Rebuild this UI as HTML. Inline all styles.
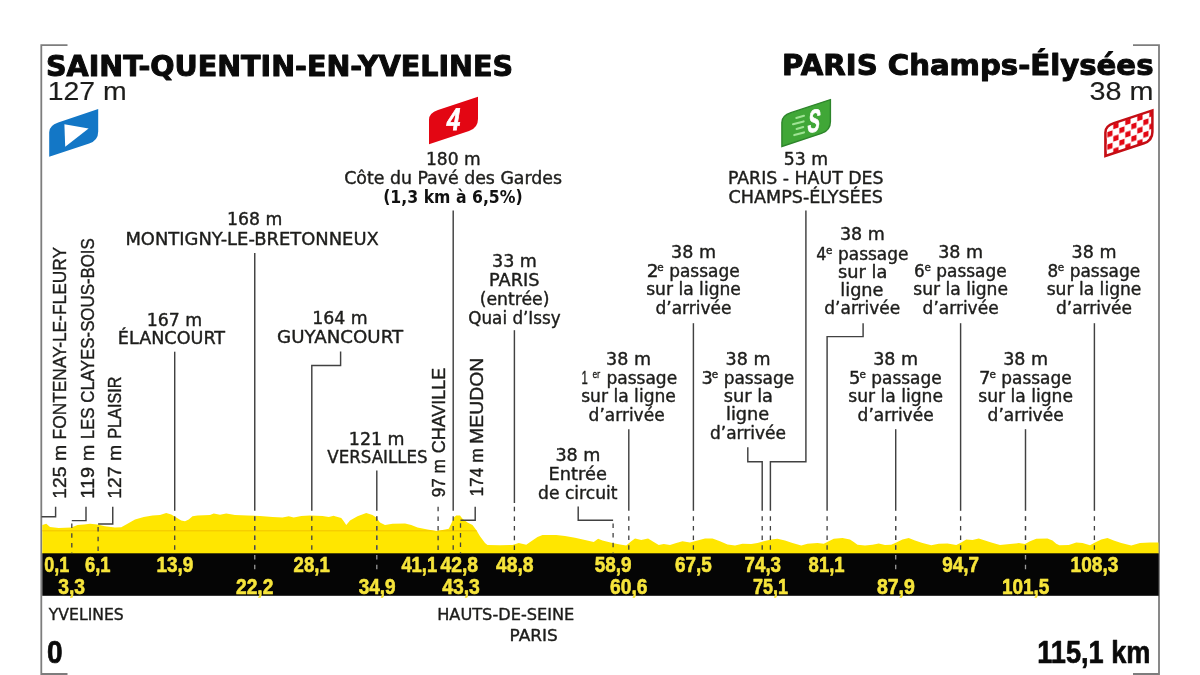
<!DOCTYPE html>
<html lang="fr"><head><meta charset="utf-8"><title>Étape 21 — Saint-Quentin-en-Yvelines / Paris Champs-Élysées</title>
<style>
html,body{margin:0;padding:0;background:#fff;}
body{width:1200px;height:675px;overflow:hidden;}
svg{display:block;}
text{white-space:pre;}
</style></head><body>
<svg width="1200" height="675" viewBox="0 0 1200 675">
<rect width="1200" height="675" fill="#ffffff"/>
<path d="M67.5 45.2 H41.3 V674 H67.5" fill="none" stroke="#7d7d7d" stroke-width="1.8"/>
<path d="M1133 45.2 H1159.0 V674 H1133" fill="none" stroke="#7d7d7d" stroke-width="1.8"/>
<clipPath id="pc"><path d="M42.3 554 L42.3 525 L46.3 523.7 L50 526.9 L58.75 528.1 L71.25 527.5 L77.5 525 L84 524.6 L90 523.75 L97.5 524.4 L105 526.25 L115 527.5 L121.25 527.25 L127.5 523.75 L135 519.4 L143.75 516.9 L152.5 515.6 L160 515 L166.25 513.1 L171.25 514.4 L176.25 517.5 L181.25 520.6 L185 521.2 L188.75 519.4 L192.5 516.25 L197.5 515.6 L210 515 L213.75 513.5 L220 514.75 L226.25 513.5 L235 515 L247.5 515.6 L260 516 L272.5 516.9 L282.5 517.5 L288.75 516.25 L293.75 517.5 L301.25 516 L310 515.6 L322.5 516 L328.75 516.9 L333.75 515.8 L335 516.25 L341.25 518.1 L343.75 521.25 L346.25 525 L350 520.6 L357.5 516.25 L366.25 513.1 L372.5 515 L376.25 517.5 L380 522.5 L385 525 L392.5 523.75 L405 523.5 L411.25 525 L417.5 527.5 L427.5 529.4 L436.25 531 L442.5 530 L448.75 528.75 L451.25 523.75 L453.75 517.5 L456.25 515.6 L460 515.6 L462.5 518.75 L467.5 522.5 L472.5 525 L476.25 530 L480 536.25 L485 543.1 L487.5 545 L500 545.25 L512.5 545 L518.75 543.1 L526.25 544.75 L531.25 541.25 L537.5 536.9 L542.5 535 L556.25 535 L565 536 L575 537.75 L585 540 L593.75 541.9 L598.1 538.75 L602.5 540.6 L612.5 543.1 L620 544.4 L626.25 545.6 L631.25 541.25 L635 538.5 L641.25 540 L648.1 538.5 L653.75 541.9 L658.75 545 L663.75 544 L670 545 L676.25 543.1 L682.5 541.25 L690 542.5 L697.5 540.6 L705 538.5 L712.5 538.5 L720 541.25 L727.5 544.4 L735 545.6 L742.5 543.75 L751.25 544 L757.5 543.1 L763.75 541.25 L771.25 539.4 L777.5 538.75 L785 540.6 L792.5 543.1 L801.25 545.6 L807.5 543.75 L817.5 543.1 L823.75 543.75 L828.75 541.25 L833.75 538.75 L842.5 538.1 L850 539.4 L853.75 541.9 L857.5 544.75 L865 545.6 L872.5 544.75 L878.75 543.5 L885 545 L891.25 544.75 L896.25 542.5 L902.5 539.4 L908.75 538.1 L915 540.6 L922.5 543.1 L931.25 545.25 L938.75 543.75 L947.5 543.5 L956.25 545 L961.25 542.5 L966.25 539.4 L972.5 540 L978.75 538.5 L985 540.6 L991.25 542.5 L1000 545 L1010 544 L1018.75 543.1 L1025 544 L1030 541.25 L1036.25 538.75 L1047.5 538.5 L1052.5 540.6 L1056.25 543.75 L1059.4 545.25 L1068.75 545 L1076.25 542.5 L1082.5 543.1 L1090 545.25 L1095 542.5 L1101.25 539.4 L1107.5 538.1 L1113.75 540.6 L1121.25 543.1 L1131.25 545.6 L1140 543.1 L1150 542.5 L1158.5 542.5 L1158.5 554 Z"/></clipPath>
<path d="M42.3 554 L42.3 525 L46.3 523.7 L50 526.9 L58.75 528.1 L71.25 527.5 L77.5 525 L84 524.6 L90 523.75 L97.5 524.4 L105 526.25 L115 527.5 L121.25 527.25 L127.5 523.75 L135 519.4 L143.75 516.9 L152.5 515.6 L160 515 L166.25 513.1 L171.25 514.4 L176.25 517.5 L181.25 520.6 L185 521.2 L188.75 519.4 L192.5 516.25 L197.5 515.6 L210 515 L213.75 513.5 L220 514.75 L226.25 513.5 L235 515 L247.5 515.6 L260 516 L272.5 516.9 L282.5 517.5 L288.75 516.25 L293.75 517.5 L301.25 516 L310 515.6 L322.5 516 L328.75 516.9 L333.75 515.8 L335 516.25 L341.25 518.1 L343.75 521.25 L346.25 525 L350 520.6 L357.5 516.25 L366.25 513.1 L372.5 515 L376.25 517.5 L380 522.5 L385 525 L392.5 523.75 L405 523.5 L411.25 525 L417.5 527.5 L427.5 529.4 L436.25 531 L442.5 530 L448.75 528.75 L451.25 523.75 L453.75 517.5 L456.25 515.6 L460 515.6 L462.5 518.75 L467.5 522.5 L472.5 525 L476.25 530 L480 536.25 L485 543.1 L487.5 545 L500 545.25 L512.5 545 L518.75 543.1 L526.25 544.75 L531.25 541.25 L537.5 536.9 L542.5 535 L556.25 535 L565 536 L575 537.75 L585 540 L593.75 541.9 L598.1 538.75 L602.5 540.6 L612.5 543.1 L620 544.4 L626.25 545.6 L631.25 541.25 L635 538.5 L641.25 540 L648.1 538.5 L653.75 541.9 L658.75 545 L663.75 544 L670 545 L676.25 543.1 L682.5 541.25 L690 542.5 L697.5 540.6 L705 538.5 L712.5 538.5 L720 541.25 L727.5 544.4 L735 545.6 L742.5 543.75 L751.25 544 L757.5 543.1 L763.75 541.25 L771.25 539.4 L777.5 538.75 L785 540.6 L792.5 543.1 L801.25 545.6 L807.5 543.75 L817.5 543.1 L823.75 543.75 L828.75 541.25 L833.75 538.75 L842.5 538.1 L850 539.4 L853.75 541.9 L857.5 544.75 L865 545.6 L872.5 544.75 L878.75 543.5 L885 545 L891.25 544.75 L896.25 542.5 L902.5 539.4 L908.75 538.1 L915 540.6 L922.5 543.1 L931.25 545.25 L938.75 543.75 L947.5 543.5 L956.25 545 L961.25 542.5 L966.25 539.4 L972.5 540 L978.75 538.5 L985 540.6 L991.25 542.5 L1000 545 L1010 544 L1018.75 543.1 L1025 544 L1030 541.25 L1036.25 538.75 L1047.5 538.5 L1052.5 540.6 L1056.25 543.75 L1059.4 545.25 L1068.75 545 L1076.25 542.5 L1082.5 543.1 L1090 545.25 L1095 542.5 L1101.25 539.4 L1107.5 538.1 L1113.75 540.6 L1121.25 543.1 L1131.25 545.6 L1140 543.1 L1150 542.5 L1158.5 542.5 L1158.5 554 Z" fill="#ffe600"/>
<path d="M42 530.8 H480" stroke="#f2c400" stroke-width="1" clip-path="url(#pc)"/>
<rect x="42.3" y="553.3" width="1116.4" height="42.5" fill="#050505"/>
<path d="M55.6 506.8 V516.7 H41.5" fill="none" stroke="#414141" stroke-width="1.45"/>
<path d="M86 506.8 V520.6 H71.8" fill="none" stroke="#414141" stroke-width="1.45"/>
<path d="M71.8 523.5 V553.4" fill="none" stroke="#414141" stroke-width="1.3" stroke-dasharray="4.5 5.2"/>
<path d="M112.75 506.8 V524 H98.1" fill="none" stroke="#414141" stroke-width="1.45"/>
<path d="M98.1 527 V553.4" fill="none" stroke="#414141" stroke-width="1.3" stroke-dasharray="4.5 5.2"/>
<path d="M174.7 351.7 V510.8" fill="none" stroke="#414141" stroke-width="1.45"/>
<path d="M174.7 516.2 V553.4" fill="none" stroke="#414141" stroke-width="1.3" stroke-dasharray="4.5 5.2"/>
<path d="M254.75 253 V510.8" fill="none" stroke="#414141" stroke-width="1.45"/>
<path d="M254.75 516.2 V571" fill="none" stroke="#9a9a9a" stroke-width="1.3" stroke-dasharray="4.5 5.2"/>
<path d="M254.75 516.2 V553.4" fill="none" stroke="#414141" stroke-width="1.3" stroke-dasharray="4.5 5.2"/>
<path d="M340.6 351.6 V365.5 H311.8 V510.8" fill="none" stroke="#414141" stroke-width="1.45"/>
<path d="M311.8 516.2 V553.4" fill="none" stroke="#414141" stroke-width="1.3" stroke-dasharray="4.5 5.2"/>
<path d="M376.8 470.5 V510.8" fill="none" stroke="#414141" stroke-width="1.45"/>
<path d="M376.8 516.2 V571" fill="none" stroke="#9a9a9a" stroke-width="1.3" stroke-dasharray="4.5 5.2"/>
<path d="M376.8 516.2 V553.4" fill="none" stroke="#414141" stroke-width="1.3" stroke-dasharray="4.5 5.2"/>
<path d="M438.1 506.7 V553.4" fill="none" stroke="#414141" stroke-width="1.3" stroke-dasharray="4.5 5.2"/>
<path d="M453.2 210.5 V510.8" fill="none" stroke="#414141" stroke-width="1.45"/>
<path d="M453.2 516.2 V553.4" fill="none" stroke="#414141" stroke-width="1.3" stroke-dasharray="4.5 5.2"/>
<path d="M475.2 506.7 V520.3 H460.5" fill="none" stroke="#414141" stroke-width="1.45"/>
<path d="M460.5 523.2 V553.4" fill="none" stroke="#414141" stroke-width="1.3" stroke-dasharray="4.5 5.2"/>
<path d="M514.4 330.2 V503" fill="none" stroke="#414141" stroke-width="1.45"/>
<path d="M514.4 506.7 V553.4" fill="none" stroke="#414141" stroke-width="1.3" stroke-dasharray="4.5 5.2"/>
<path d="M578.2 506.5 V520.3 H613.1" fill="none" stroke="#414141" stroke-width="1.45"/>
<path d="M613.1 523.4 V553.4" fill="none" stroke="#414141" stroke-width="1.3" stroke-dasharray="4.5 5.2"/>
<path d="M628.8 429.2 V510.8" fill="none" stroke="#414141" stroke-width="1.45"/>
<path d="M628.8 516.2 V553.4" fill="none" stroke="#414141" stroke-width="1.3" stroke-dasharray="4.5 5.2"/>
<path d="M693.4 323.2 V510.8" fill="none" stroke="#414141" stroke-width="1.45"/>
<path d="M693.4 516.2 V553.4" fill="none" stroke="#414141" stroke-width="1.3" stroke-dasharray="4.5 5.2"/>
<path d="M747.8 447.3 V461.7 H762.2 V510.8" fill="none" stroke="#414141" stroke-width="1.45"/>
<path d="M762.2 516.2 V553.4" fill="none" stroke="#414141" stroke-width="1.3" stroke-dasharray="4.5 5.2"/>
<path d="M805.9 210.5 V461.7 H770.4 V510.8" fill="none" stroke="#414141" stroke-width="1.45"/>
<path d="M770.4 516.2 V553.4" fill="none" stroke="#414141" stroke-width="1.3" stroke-dasharray="4.5 5.2"/>
<path d="M863.1 323.2 V336.6 H827.1 V510.8" fill="none" stroke="#414141" stroke-width="1.45"/>
<path d="M827.1 516.2 V553.4" fill="none" stroke="#414141" stroke-width="1.3" stroke-dasharray="4.5 5.2"/>
<path d="M895.7 429.2 V510.8" fill="none" stroke="#414141" stroke-width="1.45"/>
<path d="M895.7 516.2 V571" fill="none" stroke="#9a9a9a" stroke-width="1.3" stroke-dasharray="4.5 5.2"/>
<path d="M895.7 516.2 V553.4" fill="none" stroke="#414141" stroke-width="1.3" stroke-dasharray="4.5 5.2"/>
<path d="M960.6 323.2 V510.8" fill="none" stroke="#414141" stroke-width="1.45"/>
<path d="M960.6 516.2 V553.4" fill="none" stroke="#414141" stroke-width="1.3" stroke-dasharray="4.5 5.2"/>
<path d="M1025.5 429.2 V510.8" fill="none" stroke="#414141" stroke-width="1.45"/>
<path d="M1025.5 516.2 V571" fill="none" stroke="#9a9a9a" stroke-width="1.3" stroke-dasharray="4.5 5.2"/>
<path d="M1025.5 516.2 V553.4" fill="none" stroke="#414141" stroke-width="1.3" stroke-dasharray="4.5 5.2"/>
<path d="M1094.4 323.2 V510.8" fill="none" stroke="#414141" stroke-width="1.45"/>
<path d="M1094.4 516.2 V553.4" fill="none" stroke="#414141" stroke-width="1.3" stroke-dasharray="4.5 5.2"/>
<text x="46.0" y="75.5" font-family='"DejaVu Sans","Liberation Sans",sans-serif' font-weight="bold" font-size="28.5" fill="#0a0a0a" textLength="467.0" lengthAdjust="spacingAndGlyphs" stroke="#0a0a0a" stroke-width="1.0" stroke-linejoin="round">SAINT-QUENTIN-EN-YVELINES</text>
<text x="47.7" y="99.6" font-family='"Liberation Sans","DejaVu Sans",sans-serif' font-weight="normal" font-size="25.8" fill="#1d1d1b" textLength="79.0" lengthAdjust="spacingAndGlyphs" stroke="#1d1d1b" stroke-width="0.15" stroke-linejoin="round">127 m</text>
<text x="782.1" y="75.3" font-family='"DejaVu Sans","Liberation Sans",sans-serif' font-weight="bold" font-size="28.5" fill="#0a0a0a" textLength="371.4" lengthAdjust="spacingAndGlyphs" stroke="#0a0a0a" stroke-width="1.0" stroke-linejoin="round">PARIS Champs-Élysées</text>
<text x="1089.5" y="99.7" font-family='"Liberation Sans","DejaVu Sans",sans-serif' font-weight="normal" font-size="25.8" fill="#1d1d1b" textLength="63.9" lengthAdjust="spacingAndGlyphs" stroke="#1d1d1b" stroke-width="0.15" stroke-linejoin="round">38 m</text>
<text x="227.1" y="224.8" font-family='"DejaVu Sans","Liberation Sans",sans-serif' font-weight="normal" font-size="17.0" fill="#1d1d1b" textLength="55.3" lengthAdjust="spacingAndGlyphs" stroke="#1d1d1b" stroke-width="0.4" stroke-linejoin="round">168 m</text>
<text x="125.4" y="244.7" font-family='"DejaVu Sans","Liberation Sans",sans-serif' font-weight="normal" font-size="17.0" fill="#1d1d1b" textLength="253.4" lengthAdjust="spacingAndGlyphs" stroke="#1d1d1b" stroke-width="0.4" stroke-linejoin="round">MONTIGNY-LE-BRETONNEUX</text>
<text x="146.7" y="325.5" font-family='"DejaVu Sans","Liberation Sans",sans-serif' font-weight="normal" font-size="17.0" fill="#1d1d1b" textLength="55.6" lengthAdjust="spacingAndGlyphs" stroke="#1d1d1b" stroke-width="0.4" stroke-linejoin="round">167 m</text>
<text x="117.8" y="344.4" font-family='"DejaVu Sans","Liberation Sans",sans-serif' font-weight="normal" font-size="17.0" fill="#1d1d1b" textLength="107.3" lengthAdjust="spacingAndGlyphs" stroke="#1d1d1b" stroke-width="0.4" stroke-linejoin="round">ÉLANCOURT</text>
<text x="312.2" y="324.2" font-family='"DejaVu Sans","Liberation Sans",sans-serif' font-weight="normal" font-size="17.0" fill="#1d1d1b" textLength="55.5" lengthAdjust="spacingAndGlyphs" stroke="#1d1d1b" stroke-width="0.4" stroke-linejoin="round">164 m</text>
<text x="277.1" y="343.1" font-family='"DejaVu Sans","Liberation Sans",sans-serif' font-weight="normal" font-size="17.0" fill="#1d1d1b" textLength="126.0" lengthAdjust="spacingAndGlyphs" stroke="#1d1d1b" stroke-width="0.4" stroke-linejoin="round">GUYANCOURT</text>
<text x="348.8" y="444.6" font-family='"DejaVu Sans","Liberation Sans",sans-serif' font-weight="normal" font-size="17.0" fill="#1d1d1b" textLength="55.8" lengthAdjust="spacingAndGlyphs" stroke="#1d1d1b" stroke-width="0.4" stroke-linejoin="round">121 m</text>
<text x="327.3" y="462.8" font-family='"DejaVu Sans","Liberation Sans",sans-serif' font-weight="normal" font-size="17.0" fill="#1d1d1b" textLength="100.4" lengthAdjust="spacingAndGlyphs" stroke="#1d1d1b" stroke-width="0.4" stroke-linejoin="round">VERSAILLES</text>
<text x="425.9" y="165.2" font-family='"DejaVu Sans","Liberation Sans",sans-serif' font-weight="normal" font-size="17.0" fill="#1d1d1b" textLength="54.7" lengthAdjust="spacingAndGlyphs" stroke="#1d1d1b" stroke-width="0.4" stroke-linejoin="round">180 m</text>
<text x="344.2" y="183.5" font-family='"DejaVu Sans","Liberation Sans",sans-serif' font-weight="normal" font-size="17.0" fill="#1d1d1b" textLength="217.8" lengthAdjust="spacingAndGlyphs" stroke="#1d1d1b" stroke-width="0.4" stroke-linejoin="round">Côte du Pavé des Gardes</text>
<text x="383.2" y="202.6" font-family='"DejaVu Sans","Liberation Sans",sans-serif' font-weight="bold" font-size="16.8" fill="#111" textLength="139.5" lengthAdjust="spacingAndGlyphs">(1,3 km à 6,5%)</text>
<text x="492.0" y="267.2" font-family='"DejaVu Sans","Liberation Sans",sans-serif' font-weight="normal" font-size="17.0" fill="#1d1d1b" textLength="44.9" lengthAdjust="spacingAndGlyphs" stroke="#1d1d1b" stroke-width="0.4" stroke-linejoin="round">33 m</text>
<text x="489.0" y="286.1" font-family='"DejaVu Sans","Liberation Sans",sans-serif' font-weight="normal" font-size="17.0" fill="#1d1d1b" textLength="50.5" lengthAdjust="spacingAndGlyphs" stroke="#1d1d1b" stroke-width="0.4" stroke-linejoin="round">PARIS</text>
<text x="479.7" y="305.0" font-family='"DejaVu Sans","Liberation Sans",sans-serif' font-weight="normal" font-size="17.0" fill="#1d1d1b" textLength="69.8" lengthAdjust="spacingAndGlyphs" stroke="#1d1d1b" stroke-width="0.4" stroke-linejoin="round">(entrée)</text>
<text x="468.3" y="323.9" font-family='"DejaVu Sans","Liberation Sans",sans-serif' font-weight="normal" font-size="17.0" fill="#1d1d1b" textLength="92.4" lengthAdjust="spacingAndGlyphs" stroke="#1d1d1b" stroke-width="0.4" stroke-linejoin="round">Quai d’Issy</text>
<text x="555.4" y="461.4" font-family='"DejaVu Sans","Liberation Sans",sans-serif' font-weight="normal" font-size="17.0" fill="#1d1d1b" textLength="45.1" lengthAdjust="spacingAndGlyphs" stroke="#1d1d1b" stroke-width="0.4" stroke-linejoin="round">38 m</text>
<text x="548.6" y="480.0" font-family='"DejaVu Sans","Liberation Sans",sans-serif' font-weight="normal" font-size="17.0" fill="#1d1d1b" textLength="58.3" lengthAdjust="spacingAndGlyphs" stroke="#1d1d1b" stroke-width="0.4" stroke-linejoin="round">Entrée</text>
<text x="538.1" y="498.7" font-family='"DejaVu Sans","Liberation Sans",sans-serif' font-weight="normal" font-size="17.0" fill="#1d1d1b" textLength="79.4" lengthAdjust="spacingAndGlyphs" stroke="#1d1d1b" stroke-width="0.4" stroke-linejoin="round">de circuit</text>
<text x="606.1" y="364.8" font-family='"DejaVu Sans","Liberation Sans",sans-serif' font-weight="normal" font-size="17.0" fill="#1d1d1b" textLength="44.9" lengthAdjust="spacingAndGlyphs" stroke="#1d1d1b" stroke-width="0.4" stroke-linejoin="round">38 m</text>
<text x="581.5" y="384.0" font-family='"Liberation Sans","DejaVu Sans",sans-serif' font-weight="normal" font-size="18.0" fill="#1d1d1b" textLength="6.3" lengthAdjust="spacingAndGlyphs" stroke="#1d1d1b" stroke-width="0.4" stroke-linejoin="round">1</text>
<text x="592.4" y="378.0" font-family='"DejaVu Sans","Liberation Sans",sans-serif' font-weight="normal" font-size="11.0" fill="#1d1d1b" textLength="7.7" lengthAdjust="spacingAndGlyphs" stroke="#1d1d1b" stroke-width="0.4" stroke-linejoin="round">er</text>
<text x="606.4" y="384.0" font-family='"DejaVu Sans","Liberation Sans",sans-serif' font-weight="normal" font-size="17.0" fill="#1d1d1b" textLength="70.8" lengthAdjust="spacingAndGlyphs" stroke="#1d1d1b" stroke-width="0.4" stroke-linejoin="round">passage</text>
<text x="581.2" y="402.1" font-family='"DejaVu Sans","Liberation Sans",sans-serif' font-weight="normal" font-size="17.0" fill="#1d1d1b" textLength="94.7" lengthAdjust="spacingAndGlyphs" stroke="#1d1d1b" stroke-width="0.4" stroke-linejoin="round">sur la ligne</text>
<text x="588.6" y="420.5" font-family='"DejaVu Sans","Liberation Sans",sans-serif' font-weight="normal" font-size="17.0" fill="#1d1d1b" textLength="76.0" lengthAdjust="spacingAndGlyphs" stroke="#1d1d1b" stroke-width="0.4" stroke-linejoin="round">d’arrivée</text>
<text x="671.1" y="257.9" font-family='"DejaVu Sans","Liberation Sans",sans-serif' font-weight="normal" font-size="17.0" fill="#1d1d1b" textLength="44.9" lengthAdjust="spacingAndGlyphs" stroke="#1d1d1b" stroke-width="0.4" stroke-linejoin="round">38 m</text>
<text x="646.8" y="277.1" font-family='"DejaVu Sans","Liberation Sans",sans-serif' font-weight="normal" font-size="17.0" fill="#1d1d1b" textLength="11.8" lengthAdjust="spacingAndGlyphs" stroke="#1d1d1b" stroke-width="0.4" stroke-linejoin="round">2</text>
<text x="657.3" y="271.1" font-family='"DejaVu Sans","Liberation Sans",sans-serif' font-weight="normal" font-size="11.0" fill="#1d1d1b" textLength="6.4" lengthAdjust="spacingAndGlyphs" stroke="#1d1d1b" stroke-width="0.4" stroke-linejoin="round">e</text>
<text x="669.2" y="277.1" font-family='"DejaVu Sans","Liberation Sans",sans-serif' font-weight="normal" font-size="17.0" fill="#1d1d1b" textLength="70.4" lengthAdjust="spacingAndGlyphs" stroke="#1d1d1b" stroke-width="0.4" stroke-linejoin="round">passage</text>
<text x="646.2" y="295.2" font-family='"DejaVu Sans","Liberation Sans",sans-serif' font-weight="normal" font-size="17.0" fill="#1d1d1b" textLength="94.7" lengthAdjust="spacingAndGlyphs" stroke="#1d1d1b" stroke-width="0.4" stroke-linejoin="round">sur la ligne</text>
<text x="655.5" y="313.6" font-family='"DejaVu Sans","Liberation Sans",sans-serif' font-weight="normal" font-size="17.0" fill="#1d1d1b" textLength="76.0" lengthAdjust="spacingAndGlyphs" stroke="#1d1d1b" stroke-width="0.4" stroke-linejoin="round">d’arrivée</text>
<text x="725.6" y="365.0" font-family='"DejaVu Sans","Liberation Sans",sans-serif' font-weight="normal" font-size="17.0" fill="#1d1d1b" textLength="44.9" lengthAdjust="spacingAndGlyphs" stroke="#1d1d1b" stroke-width="0.4" stroke-linejoin="round">38 m</text>
<text x="701.4" y="384.2" font-family='"DejaVu Sans","Liberation Sans",sans-serif' font-weight="normal" font-size="17.0" fill="#1d1d1b" textLength="11.3" lengthAdjust="spacingAndGlyphs" stroke="#1d1d1b" stroke-width="0.4" stroke-linejoin="round">3</text>
<text x="711.8" y="378.2" font-family='"DejaVu Sans","Liberation Sans",sans-serif' font-weight="normal" font-size="11.0" fill="#1d1d1b" textLength="6.4" lengthAdjust="spacingAndGlyphs" stroke="#1d1d1b" stroke-width="0.4" stroke-linejoin="round">e</text>
<text x="723.7" y="384.2" font-family='"DejaVu Sans","Liberation Sans",sans-serif' font-weight="normal" font-size="17.0" fill="#1d1d1b" textLength="70.4" lengthAdjust="spacingAndGlyphs" stroke="#1d1d1b" stroke-width="0.4" stroke-linejoin="round">passage</text>
<text x="723.7" y="402.2" font-family='"DejaVu Sans","Liberation Sans",sans-serif' font-weight="normal" font-size="17.0" fill="#1d1d1b" textLength="49.3" lengthAdjust="spacingAndGlyphs" stroke="#1d1d1b" stroke-width="0.4" stroke-linejoin="round">sur la</text>
<text x="726.0" y="420.4" font-family='"DejaVu Sans","Liberation Sans",sans-serif' font-weight="normal" font-size="17.0" fill="#1d1d1b" textLength="43.2" lengthAdjust="spacingAndGlyphs" stroke="#1d1d1b" stroke-width="0.4" stroke-linejoin="round">ligne</text>
<text x="710.0" y="439.0" font-family='"DejaVu Sans","Liberation Sans",sans-serif' font-weight="normal" font-size="17.0" fill="#1d1d1b" textLength="76.0" lengthAdjust="spacingAndGlyphs" stroke="#1d1d1b" stroke-width="0.4" stroke-linejoin="round">d’arrivée</text>
<text x="839.9" y="240.3" font-family='"DejaVu Sans","Liberation Sans",sans-serif' font-weight="normal" font-size="17.0" fill="#1d1d1b" textLength="44.9" lengthAdjust="spacingAndGlyphs" stroke="#1d1d1b" stroke-width="0.4" stroke-linejoin="round">38 m</text>
<text x="816.2" y="259.5" font-family='"DejaVu Sans","Liberation Sans",sans-serif' font-weight="normal" font-size="17.0" fill="#1d1d1b" textLength="10.2" lengthAdjust="spacingAndGlyphs" stroke="#1d1d1b" stroke-width="0.4" stroke-linejoin="round">4</text>
<text x="826.1" y="253.5" font-family='"DejaVu Sans","Liberation Sans",sans-serif' font-weight="normal" font-size="11.0" fill="#1d1d1b" textLength="6.4" lengthAdjust="spacingAndGlyphs" stroke="#1d1d1b" stroke-width="0.4" stroke-linejoin="round">e</text>
<text x="838.0" y="259.5" font-family='"DejaVu Sans","Liberation Sans",sans-serif' font-weight="normal" font-size="17.0" fill="#1d1d1b" textLength="70.4" lengthAdjust="spacingAndGlyphs" stroke="#1d1d1b" stroke-width="0.4" stroke-linejoin="round">passage</text>
<text x="838.0" y="277.5" font-family='"DejaVu Sans","Liberation Sans",sans-serif' font-weight="normal" font-size="17.0" fill="#1d1d1b" textLength="49.3" lengthAdjust="spacingAndGlyphs" stroke="#1d1d1b" stroke-width="0.4" stroke-linejoin="round">sur la</text>
<text x="840.3" y="295.7" font-family='"DejaVu Sans","Liberation Sans",sans-serif' font-weight="normal" font-size="17.0" fill="#1d1d1b" textLength="43.2" lengthAdjust="spacingAndGlyphs" stroke="#1d1d1b" stroke-width="0.4" stroke-linejoin="round">ligne</text>
<text x="824.3" y="314.3" font-family='"DejaVu Sans","Liberation Sans",sans-serif' font-weight="normal" font-size="17.0" fill="#1d1d1b" textLength="76.0" lengthAdjust="spacingAndGlyphs" stroke="#1d1d1b" stroke-width="0.4" stroke-linejoin="round">d’arrivée</text>
<text x="873.2" y="365.0" font-family='"DejaVu Sans","Liberation Sans",sans-serif' font-weight="normal" font-size="17.0" fill="#1d1d1b" textLength="44.9" lengthAdjust="spacingAndGlyphs" stroke="#1d1d1b" stroke-width="0.4" stroke-linejoin="round">38 m</text>
<text x="849.0" y="384.2" font-family='"DejaVu Sans","Liberation Sans",sans-serif' font-weight="normal" font-size="17.0" fill="#1d1d1b" textLength="11.4" lengthAdjust="spacingAndGlyphs" stroke="#1d1d1b" stroke-width="0.4" stroke-linejoin="round">5</text>
<text x="859.4" y="378.2" font-family='"DejaVu Sans","Liberation Sans",sans-serif' font-weight="normal" font-size="11.0" fill="#1d1d1b" textLength="6.4" lengthAdjust="spacingAndGlyphs" stroke="#1d1d1b" stroke-width="0.4" stroke-linejoin="round">e</text>
<text x="871.3" y="384.2" font-family='"DejaVu Sans","Liberation Sans",sans-serif' font-weight="normal" font-size="17.0" fill="#1d1d1b" textLength="70.4" lengthAdjust="spacingAndGlyphs" stroke="#1d1d1b" stroke-width="0.4" stroke-linejoin="round">passage</text>
<text x="848.3" y="402.3" font-family='"DejaVu Sans","Liberation Sans",sans-serif' font-weight="normal" font-size="17.0" fill="#1d1d1b" textLength="94.7" lengthAdjust="spacingAndGlyphs" stroke="#1d1d1b" stroke-width="0.4" stroke-linejoin="round">sur la ligne</text>
<text x="857.6" y="420.7" font-family='"DejaVu Sans","Liberation Sans",sans-serif' font-weight="normal" font-size="17.0" fill="#1d1d1b" textLength="76.0" lengthAdjust="spacingAndGlyphs" stroke="#1d1d1b" stroke-width="0.4" stroke-linejoin="round">d’arrivée</text>
<text x="938.2" y="257.8" font-family='"DejaVu Sans","Liberation Sans",sans-serif' font-weight="normal" font-size="17.0" fill="#1d1d1b" textLength="44.9" lengthAdjust="spacingAndGlyphs" stroke="#1d1d1b" stroke-width="0.4" stroke-linejoin="round">38 m</text>
<text x="914.1" y="277.0" font-family='"DejaVu Sans","Liberation Sans",sans-serif' font-weight="normal" font-size="17.0" fill="#1d1d1b" textLength="10.7" lengthAdjust="spacingAndGlyphs" stroke="#1d1d1b" stroke-width="0.4" stroke-linejoin="round">6</text>
<text x="924.4" y="271.0" font-family='"DejaVu Sans","Liberation Sans",sans-serif' font-weight="normal" font-size="11.0" fill="#1d1d1b" textLength="6.4" lengthAdjust="spacingAndGlyphs" stroke="#1d1d1b" stroke-width="0.4" stroke-linejoin="round">e</text>
<text x="936.3" y="277.0" font-family='"DejaVu Sans","Liberation Sans",sans-serif' font-weight="normal" font-size="17.0" fill="#1d1d1b" textLength="70.4" lengthAdjust="spacingAndGlyphs" stroke="#1d1d1b" stroke-width="0.4" stroke-linejoin="round">passage</text>
<text x="913.3" y="295.1" font-family='"DejaVu Sans","Liberation Sans",sans-serif' font-weight="normal" font-size="17.0" fill="#1d1d1b" textLength="94.7" lengthAdjust="spacingAndGlyphs" stroke="#1d1d1b" stroke-width="0.4" stroke-linejoin="round">sur la ligne</text>
<text x="922.6" y="313.5" font-family='"DejaVu Sans","Liberation Sans",sans-serif' font-weight="normal" font-size="17.0" fill="#1d1d1b" textLength="76.0" lengthAdjust="spacingAndGlyphs" stroke="#1d1d1b" stroke-width="0.4" stroke-linejoin="round">d’arrivée</text>
<text x="1003.2" y="364.8" font-family='"DejaVu Sans","Liberation Sans",sans-serif' font-weight="normal" font-size="17.0" fill="#1d1d1b" textLength="44.9" lengthAdjust="spacingAndGlyphs" stroke="#1d1d1b" stroke-width="0.4" stroke-linejoin="round">38 m</text>
<text x="978.9" y="384.0" font-family='"DejaVu Sans","Liberation Sans",sans-serif' font-weight="normal" font-size="17.0" fill="#1d1d1b" textLength="11.5" lengthAdjust="spacingAndGlyphs" stroke="#1d1d1b" stroke-width="0.4" stroke-linejoin="round">7</text>
<text x="989.4" y="378.0" font-family='"DejaVu Sans","Liberation Sans",sans-serif' font-weight="normal" font-size="11.0" fill="#1d1d1b" textLength="6.4" lengthAdjust="spacingAndGlyphs" stroke="#1d1d1b" stroke-width="0.4" stroke-linejoin="round">e</text>
<text x="1001.3" y="384.0" font-family='"DejaVu Sans","Liberation Sans",sans-serif' font-weight="normal" font-size="17.0" fill="#1d1d1b" textLength="70.4" lengthAdjust="spacingAndGlyphs" stroke="#1d1d1b" stroke-width="0.4" stroke-linejoin="round">passage</text>
<text x="978.3" y="402.1" font-family='"DejaVu Sans","Liberation Sans",sans-serif' font-weight="normal" font-size="17.0" fill="#1d1d1b" textLength="94.7" lengthAdjust="spacingAndGlyphs" stroke="#1d1d1b" stroke-width="0.4" stroke-linejoin="round">sur la ligne</text>
<text x="987.6" y="420.5" font-family='"DejaVu Sans","Liberation Sans",sans-serif' font-weight="normal" font-size="17.0" fill="#1d1d1b" textLength="76.0" lengthAdjust="spacingAndGlyphs" stroke="#1d1d1b" stroke-width="0.4" stroke-linejoin="round">d’arrivée</text>
<text x="1071.6" y="257.8" font-family='"DejaVu Sans","Liberation Sans",sans-serif' font-weight="normal" font-size="17.0" fill="#1d1d1b" textLength="44.9" lengthAdjust="spacingAndGlyphs" stroke="#1d1d1b" stroke-width="0.4" stroke-linejoin="round">38 m</text>
<text x="1047.6" y="277.0" font-family='"DejaVu Sans","Liberation Sans",sans-serif' font-weight="normal" font-size="17.0" fill="#1d1d1b" textLength="10.7" lengthAdjust="spacingAndGlyphs" stroke="#1d1d1b" stroke-width="0.4" stroke-linejoin="round">8</text>
<text x="1057.8" y="271.0" font-family='"DejaVu Sans","Liberation Sans",sans-serif' font-weight="normal" font-size="11.0" fill="#1d1d1b" textLength="6.4" lengthAdjust="spacingAndGlyphs" stroke="#1d1d1b" stroke-width="0.4" stroke-linejoin="round">e</text>
<text x="1069.7" y="277.0" font-family='"DejaVu Sans","Liberation Sans",sans-serif' font-weight="normal" font-size="17.0" fill="#1d1d1b" textLength="70.4" lengthAdjust="spacingAndGlyphs" stroke="#1d1d1b" stroke-width="0.4" stroke-linejoin="round">passage</text>
<text x="1046.7" y="295.1" font-family='"DejaVu Sans","Liberation Sans",sans-serif' font-weight="normal" font-size="17.0" fill="#1d1d1b" textLength="94.7" lengthAdjust="spacingAndGlyphs" stroke="#1d1d1b" stroke-width="0.4" stroke-linejoin="round">sur la ligne</text>
<text x="1056.0" y="313.5" font-family='"DejaVu Sans","Liberation Sans",sans-serif' font-weight="normal" font-size="17.0" fill="#1d1d1b" textLength="76.0" lengthAdjust="spacingAndGlyphs" stroke="#1d1d1b" stroke-width="0.4" stroke-linejoin="round">d’arrivée</text>
<text x="783.7" y="164.7" font-family='"DejaVu Sans","Liberation Sans",sans-serif' font-weight="normal" font-size="17.0" fill="#1d1d1b" textLength="44.3" lengthAdjust="spacingAndGlyphs" stroke="#1d1d1b" stroke-width="0.4" stroke-linejoin="round">53 m</text>
<text x="727.9" y="183.6" font-family='"DejaVu Sans","Liberation Sans",sans-serif' font-weight="normal" font-size="17.0" fill="#1d1d1b" textLength="155.7" lengthAdjust="spacingAndGlyphs" stroke="#1d1d1b" stroke-width="0.4" stroke-linejoin="round">PARIS - HAUT DES</text>
<text x="728.6" y="202.5" font-family='"DejaVu Sans","Liberation Sans",sans-serif' font-weight="normal" font-size="17.0" fill="#1d1d1b" textLength="154.3" lengthAdjust="spacingAndGlyphs" stroke="#1d1d1b" stroke-width="0.4" stroke-linejoin="round">CHAMPS-ÉLYSÉES</text>
<text transform="translate(66.3 498.7) rotate(-90)" x="0" y="0" font-family='"Liberation Sans","DejaVu Sans",sans-serif' font-weight="normal" font-size="19.2" fill="#1d1d1b" textLength="53.9" lengthAdjust="spacingAndGlyphs" stroke="#1d1d1b" stroke-width="0.4" stroke-linejoin="round">125 m</text>
<text transform="translate(66.3 439.4) rotate(-90)" x="0" y="0" font-family='"Liberation Sans","DejaVu Sans",sans-serif' font-weight="normal" font-size="19.2" fill="#1d1d1b" textLength="192.4" lengthAdjust="spacingAndGlyphs" stroke="#1d1d1b" stroke-width="0.4" stroke-linejoin="round">FONTENAY-LE-FLEURY</text>
<text transform="translate(94.0 498.7) rotate(-90)" x="0" y="0" font-family='"Liberation Sans","DejaVu Sans",sans-serif' font-weight="normal" font-size="19.2" fill="#1d1d1b" textLength="54.0" lengthAdjust="spacingAndGlyphs" stroke="#1d1d1b" stroke-width="0.4" stroke-linejoin="round">119 m</text>
<text transform="translate(94.0 439.3) rotate(-90)" x="0" y="0" font-family='"Liberation Sans","DejaVu Sans",sans-serif' font-weight="normal" font-size="19.2" fill="#1d1d1b" textLength="201.1" lengthAdjust="spacingAndGlyphs" stroke="#1d1d1b" stroke-width="0.4" stroke-linejoin="round">LES CLAYES-SOUS-BOIS</text>
<text transform="translate(120.7 498.7) rotate(-90)" x="0" y="0" font-family='"Liberation Sans","DejaVu Sans",sans-serif' font-weight="normal" font-size="19.2" fill="#1d1d1b" textLength="53.9" lengthAdjust="spacingAndGlyphs" stroke="#1d1d1b" stroke-width="0.4" stroke-linejoin="round">127 m</text>
<text transform="translate(120.7 438.8) rotate(-90)" x="0" y="0" font-family='"Liberation Sans","DejaVu Sans",sans-serif' font-weight="normal" font-size="19.2" fill="#1d1d1b" textLength="62.3" lengthAdjust="spacingAndGlyphs" stroke="#1d1d1b" stroke-width="0.4" stroke-linejoin="round">PLAISIR</text>
<text transform="translate(445.4 497.2) rotate(-90)" x="0" y="0" font-family='"Liberation Sans","DejaVu Sans",sans-serif' font-weight="normal" font-size="19.2" fill="#1d1d1b" textLength="38.1" lengthAdjust="spacingAndGlyphs" stroke="#1d1d1b" stroke-width="0.4" stroke-linejoin="round">97 m</text>
<text transform="translate(445.4 453.3) rotate(-90)" x="0" y="0" font-family='"Liberation Sans","DejaVu Sans",sans-serif' font-weight="normal" font-size="19.2" fill="#1d1d1b" textLength="85.5" lengthAdjust="spacingAndGlyphs" stroke="#1d1d1b" stroke-width="0.4" stroke-linejoin="round">CHAVILLE</text>
<text transform="translate(482.8 496.5) rotate(-90)" x="0" y="0" font-family='"Liberation Sans","DejaVu Sans",sans-serif' font-weight="normal" font-size="19.2" fill="#1d1d1b" textLength="48.1" lengthAdjust="spacingAndGlyphs" stroke="#1d1d1b" stroke-width="0.4" stroke-linejoin="round">174 m</text>
<text transform="translate(482.8 443.9) rotate(-90)" x="0" y="0" font-family='"Liberation Sans","DejaVu Sans",sans-serif' font-weight="normal" font-size="19.2" fill="#1d1d1b" textLength="86.1" lengthAdjust="spacingAndGlyphs" stroke="#1d1d1b" stroke-width="0.4" stroke-linejoin="round">MEUDON</text>
<text x="48.8" y="619.5" font-family='"DejaVu Sans","Liberation Sans",sans-serif' font-weight="normal" font-size="16.6" fill="#1d1d1b" textLength="75.0" lengthAdjust="spacingAndGlyphs" stroke="#1d1d1b" stroke-width="0.4" stroke-linejoin="round">YVELINES</text>
<text x="437.2" y="619.5" font-family='"DejaVu Sans","Liberation Sans",sans-serif' font-weight="normal" font-size="16.6" fill="#1d1d1b" textLength="137.1" lengthAdjust="spacingAndGlyphs" stroke="#1d1d1b" stroke-width="0.4" stroke-linejoin="round">HAUTS-DE-SEINE</text>
<text x="509.6" y="640.8" font-family='"DejaVu Sans","Liberation Sans",sans-serif' font-weight="normal" font-size="16.6" fill="#1d1d1b" textLength="48.3" lengthAdjust="spacingAndGlyphs" stroke="#1d1d1b" stroke-width="0.4" stroke-linejoin="round">PARIS</text>
<text x="46.9" y="663.3" font-family='"Liberation Sans","DejaVu Sans",sans-serif' font-weight="bold" font-size="32" fill="#0a0a0a" textLength="15.6" lengthAdjust="spacingAndGlyphs" stroke="#0a0a0a" stroke-width="0.7" stroke-linejoin="round">0</text>
<text x="1037.2" y="663.3" font-family='"Liberation Sans","DejaVu Sans",sans-serif' font-weight="bold" font-size="32" fill="#0a0a0a" textLength="113.3" lengthAdjust="spacingAndGlyphs" stroke="#0a0a0a" stroke-width="0.7" stroke-linejoin="round">115,1 km</text>
<text x="44.3" y="571.9" font-family='"Liberation Sans","DejaVu Sans",sans-serif' font-weight="bold" font-size="21.3" fill="#f7e53b" textLength="25.0" lengthAdjust="spacingAndGlyphs" stroke="#f7e53b" stroke-width="0.6" stroke-linejoin="round">0,1</text>
<text x="58.3" y="593.5" font-family='"Liberation Sans","DejaVu Sans",sans-serif' font-weight="bold" font-size="21.3" fill="#f7e53b" textLength="26.8" lengthAdjust="spacingAndGlyphs" stroke="#f7e53b" stroke-width="0.6" stroke-linejoin="round">3,3</text>
<text x="85.0" y="571.9" font-family='"Liberation Sans","DejaVu Sans",sans-serif' font-weight="bold" font-size="21.3" fill="#f7e53b" textLength="25.5" lengthAdjust="spacingAndGlyphs" stroke="#f7e53b" stroke-width="0.6" stroke-linejoin="round">6,1</text>
<text x="156.4" y="571.9" font-family='"Liberation Sans","DejaVu Sans",sans-serif' font-weight="bold" font-size="21.3" fill="#f7e53b" textLength="36.8" lengthAdjust="spacingAndGlyphs" stroke="#f7e53b" stroke-width="0.6" stroke-linejoin="round">13,9</text>
<text x="236.0" y="593.5" font-family='"Liberation Sans","DejaVu Sans",sans-serif' font-weight="bold" font-size="21.3" fill="#f7e53b" textLength="37.3" lengthAdjust="spacingAndGlyphs" stroke="#f7e53b" stroke-width="0.6" stroke-linejoin="round">22,2</text>
<text x="293.6" y="571.9" font-family='"Liberation Sans","DejaVu Sans",sans-serif' font-weight="bold" font-size="21.3" fill="#f7e53b" textLength="36.1" lengthAdjust="spacingAndGlyphs" stroke="#f7e53b" stroke-width="0.6" stroke-linejoin="round">28,1</text>
<text x="358.7" y="593.5" font-family='"Liberation Sans","DejaVu Sans",sans-serif' font-weight="bold" font-size="21.3" fill="#f7e53b" textLength="37.0" lengthAdjust="spacingAndGlyphs" stroke="#f7e53b" stroke-width="0.6" stroke-linejoin="round">34,9</text>
<text x="401.4" y="571.9" font-family='"Liberation Sans","DejaVu Sans",sans-serif' font-weight="bold" font-size="21.3" fill="#f7e53b" textLength="35.8" lengthAdjust="spacingAndGlyphs" stroke="#f7e53b" stroke-width="0.6" stroke-linejoin="round">41,1</text>
<text x="440.5" y="571.9" font-family='"Liberation Sans","DejaVu Sans",sans-serif' font-weight="bold" font-size="21.3" fill="#f7e53b" textLength="37.6" lengthAdjust="spacingAndGlyphs" stroke="#f7e53b" stroke-width="0.6" stroke-linejoin="round">42,8</text>
<text x="442.2" y="593.5" font-family='"Liberation Sans","DejaVu Sans",sans-serif' font-weight="bold" font-size="21.3" fill="#f7e53b" textLength="37.7" lengthAdjust="spacingAndGlyphs" stroke="#f7e53b" stroke-width="0.6" stroke-linejoin="round">43,3</text>
<text x="496.0" y="571.9" font-family='"Liberation Sans","DejaVu Sans",sans-serif' font-weight="bold" font-size="21.3" fill="#f7e53b" textLength="37.6" lengthAdjust="spacingAndGlyphs" stroke="#f7e53b" stroke-width="0.6" stroke-linejoin="round">48,8</text>
<text x="594.7" y="571.9" font-family='"Liberation Sans","DejaVu Sans",sans-serif' font-weight="bold" font-size="21.3" fill="#f7e53b" textLength="36.8" lengthAdjust="spacingAndGlyphs" stroke="#f7e53b" stroke-width="0.6" stroke-linejoin="round">58,9</text>
<text x="610.1" y="593.5" font-family='"Liberation Sans","DejaVu Sans",sans-serif' font-weight="bold" font-size="21.3" fill="#f7e53b" textLength="37.3" lengthAdjust="spacingAndGlyphs" stroke="#f7e53b" stroke-width="0.6" stroke-linejoin="round">60,6</text>
<text x="675.1" y="571.9" font-family='"Liberation Sans","DejaVu Sans",sans-serif' font-weight="bold" font-size="21.3" fill="#f7e53b" textLength="36.7" lengthAdjust="spacingAndGlyphs" stroke="#f7e53b" stroke-width="0.6" stroke-linejoin="round">67,5</text>
<text x="744.6" y="571.9" font-family='"Liberation Sans","DejaVu Sans",sans-serif' font-weight="bold" font-size="21.3" fill="#f7e53b" textLength="36.4" lengthAdjust="spacingAndGlyphs" stroke="#f7e53b" stroke-width="0.6" stroke-linejoin="round">74,3</text>
<text x="753.0" y="593.5" font-family='"Liberation Sans","DejaVu Sans",sans-serif' font-weight="bold" font-size="21.3" fill="#f7e53b" textLength="35.0" lengthAdjust="spacingAndGlyphs" stroke="#f7e53b" stroke-width="0.6" stroke-linejoin="round">75,1</text>
<text x="808.6" y="571.9" font-family='"Liberation Sans","DejaVu Sans",sans-serif' font-weight="bold" font-size="21.3" fill="#f7e53b" textLength="36.0" lengthAdjust="spacingAndGlyphs" stroke="#f7e53b" stroke-width="0.6" stroke-linejoin="round">81,1</text>
<text x="876.9" y="593.5" font-family='"Liberation Sans","DejaVu Sans",sans-serif' font-weight="bold" font-size="21.3" fill="#f7e53b" textLength="38.0" lengthAdjust="spacingAndGlyphs" stroke="#f7e53b" stroke-width="0.6" stroke-linejoin="round">87,9</text>
<text x="942.3" y="571.9" font-family='"Liberation Sans","DejaVu Sans",sans-serif' font-weight="bold" font-size="21.3" fill="#f7e53b" textLength="36.7" lengthAdjust="spacingAndGlyphs" stroke="#f7e53b" stroke-width="0.6" stroke-linejoin="round">94,7</text>
<text x="1001.9" y="593.5" font-family='"Liberation Sans","DejaVu Sans",sans-serif' font-weight="bold" font-size="21.3" fill="#f7e53b" textLength="47.4" lengthAdjust="spacingAndGlyphs" stroke="#f7e53b" stroke-width="0.6" stroke-linejoin="round">101,5</text>
<text x="1070.6" y="571.9" font-family='"Liberation Sans","DejaVu Sans",sans-serif' font-weight="bold" font-size="21.3" fill="#f7e53b" textLength="47.7" lengthAdjust="spacingAndGlyphs" stroke="#f7e53b" stroke-width="0.6" stroke-linejoin="round">108,3</text>
<path d="M58.20 122.41 L98.20 109.10 L98.20 131.40 Q98.20 140.40 89.20 143.39 L49.20 156.70 L49.20 132.15 Q49.20 125.40 58.20 122.41 Z" fill="#1377c6"/>
<path d="M64.4 124.3 L88.6 128.4 L65.2 146.8 Z" fill="#fff"/>
<path d="M438.00 110.01 L478.00 96.70 L478.00 119.00 Q478.00 128.00 469.00 130.99 L429.00 144.30 L429.00 119.75 Q429.00 113.00 438.00 110.01 Z" fill="#e30613"/>
<text transform="translate(445.4 130.4) skewX(-9)" font-family='"Liberation Sans","DejaVu Sans",sans-serif' font-weight="bold" font-size="31.5" fill="#fff" stroke="#fff" stroke-width="0.9" textLength="13.2" lengthAdjust="spacingAndGlyphs">4</text>
<path d="M790.90 112.71 L830.40 99.60 L830.40 121.40 Q830.40 130.40 821.40 133.39 L781.90 146.50 L781.90 122.45 Q781.90 115.70 790.90 112.71 Z" fill="#40a737" stroke="#2d852b" stroke-width="1.4"/>
<text transform="translate(806.6 132.3) skewX(-9)" font-family='"Liberation Sans","DejaVu Sans",sans-serif' font-weight="bold" font-size="32.5" fill="#fff" stroke="#fff" stroke-width="0.8" textLength="12" lengthAdjust="spacingAndGlyphs">S</text>
<path d="M796.3 118 L804 115.8" stroke="#9fe394" stroke-width="2.1" stroke-linecap="round"/>
<path d="M793 124.2 L803.6 121.4" stroke="#9fe394" stroke-width="2.1" stroke-linecap="round"/>
<path d="M796.6 129 L803.2 127.1" stroke="#9fe394" stroke-width="2.1" stroke-linecap="round"/>
<path d="M794.3 135.1 L804 132.4" stroke="#9fe394" stroke-width="2.1" stroke-linecap="round"/>
<defs><pattern id="chk" width="12" height="12.4" patternUnits="userSpaceOnUse" patternTransform="translate(1106.9 113.2) skewY(-18.4)"><rect width="12" height="12.4" fill="#fff"/><rect x="0.4" y="6.6" width="5.2" height="5.4" fill="#e30613"/><rect x="6.4" y="0.4" width="5.2" height="5.4" fill="#e30613"/></pattern></defs>
<path d="M1113.90 123.18 L1152.40 110.40 L1152.40 131.90 Q1152.40 140.40 1143.90 143.22 L1105.40 156.00 L1105.40 132.38 Q1105.40 126.00 1113.90 123.18 Z" fill="url(#chk)" stroke="#c40d14" stroke-width="2.5"/>
</svg>
</body></html>
